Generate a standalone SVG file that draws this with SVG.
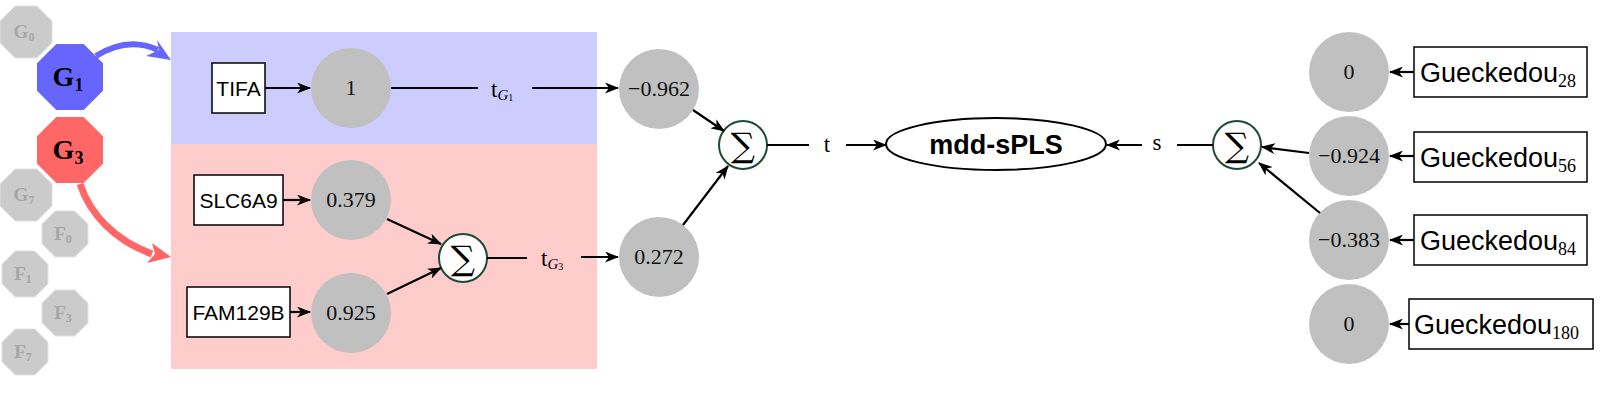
<svg xmlns="http://www.w3.org/2000/svg" width="1600" height="400" viewBox="0 0 1600 400">
<defs>
<marker id="ah" viewBox="0 0 14 11" refX="13" refY="5.5" markerWidth="14" markerHeight="11" markerUnits="userSpaceOnUse" orient="auto">
<path d="M0,0 L14,5.5 L0,11 L4,5.5 z" fill="#000"/>
</marker>
<style>
.ln{stroke:#000;stroke-width:2.2;fill:none}
.ar{stroke:#000;stroke-width:2.2;fill:none;marker-end:url(#ah)}
.w{fill:#c0c0c0}
.sig{fill:#fff;stroke:#1d4a35;stroke-width:2}
.box{fill:#fff;stroke:#000;stroke-width:1.5}
.num{font-family:"Liberation Serif",serif;font-size:22px;fill:#111;text-anchor:middle}
.bt{font-family:"Liberation Sans",sans-serif;font-size:21px;fill:#000;text-anchor:middle}
.gt{font-family:"Liberation Sans",sans-serif;font-size:27px;fill:#000}
.sub{font-family:"Liberation Serif",serif;font-size:18px}
.ser{font-family:"Liberation Serif",serif;font-size:23px;fill:#000}
.sm{font-family:"DejaVu Serif","Liberation Serif",serif;font-size:34px;fill:#000;text-anchor:middle}
.go{fill:#cbcbcb;stroke:#e0e0e0;stroke-width:1}
.gtx{font-family:"Liberation Serif",serif;font-weight:bold;fill:#a6a6a6;font-size:19px;text-anchor:middle}
.btx{font-family:"Liberation Serif",serif;font-weight:bold;fill:#000;font-size:28px;text-anchor:middle}
</style>
</defs>

<rect x="171" y="32" width="426" height="112" fill="#ccccff"/>
<rect x="171" y="144" width="426" height="225" fill="#ffcccc"/>

<g id="G0"><polygon class="go" points="15.2,6 36.8,6 52,21.2 52,42.8 36.8,58 15.2,58 0,42.8 0,21.2"/><text class="gtx" x="24" y="38">G<tspan font-size="12" dy="3">0</tspan></text></g>
<g id="G1"><polygon fill="#6666ff" points="56.3,44 83.7,44 103,63.3 103,90.7 83.7,110 56.3,110 37,90.7 37,63.3"/><text class="btx" x="68" y="86">G<tspan font-size="18" dy="5">1</tspan></text></g>
<g id="G3"><polygon fill="#ff6666" points="56.3,117 83.7,117 103,136.3 103,163.7 83.7,183 56.3,183 37,163.7 37,136.3"/><text class="btx" x="68" y="159">G<tspan font-size="18" dy="5">3</tspan></text></g>
<g id="G7"><polygon class="go" points="15.2,169 36.8,169 52,184.2 52,205.8 36.8,221 15.2,221 0,205.8 0,184.2"/><text class="gtx" x="24" y="201">G<tspan font-size="12" dy="3">7</tspan></text></g>
<g id="F0"><polygon class="go" points="55.3,211 74.7,211 88,224.3 88,243.7 74.7,257 55.3,257 42,243.7 42,224.3"/><text class="gtx" x="63" y="240">F<tspan font-size="12" dy="3">0</tspan></text></g>
<g id="F1"><polygon class="go" points="15.3,251 34.7,251 48,264.3 48,283.7 34.7,297 15.3,297 2,283.7 2,264.3"/><text class="gtx" x="23" y="280">F<tspan font-size="12" dy="3">1</tspan></text></g>
<g id="F3"><polygon class="go" points="55.3,290 74.7,290 88,303.3 88,322.7 74.7,336 55.3,336 42,322.7 42,303.3"/><text class="gtx" x="63" y="319">F<tspan font-size="12" dy="3">3</tspan></text></g>
<g id="F7"><polygon class="go" points="15.3,329 34.7,329 48,342.3 48,361.7 34.7,375 15.3,375 2,361.7 2,342.3"/><text class="gtx" x="23" y="358">F<tspan font-size="12" dy="3">7</tspan></text></g>

<g id="group-arrows">
<path d="M96,56 Q128,36 158,50" stroke="#6666ff" stroke-width="6" fill="none"/>
<polygon fill="#6666ff" points="171,60 157,40 159,50 146,56"/>
<path d="M80,184 C90,214 114,240 152,254" stroke="#ff6666" stroke-width="7" fill="none"/>
<polygon fill="#ff6666" points="171,257 152,243 155,254 147,263"/>
</g>

<g id="TIFA"><rect class="box" x="212" y="63" width="53" height="50"/><text class="bt" x="238.5" y="96">TIFA</text></g>
<g id="SLC6A9"><rect class="box" x="194" y="175" width="89" height="50"/><text class="bt" x="238.5" y="208">SLC6A9</text></g>
<g id="FAM129B"><rect class="box" x="187" y="287" width="103" height="50"/><text class="bt" x="238.5" y="320">FAM129B</text></g>

<g id="w1"><circle class="w" cx="351" cy="88" r="40"/><text class="num" x="351" y="95">1</text></g>
<g id="w0379"><circle class="w" cx="351" cy="200" r="40"/><text class="num" x="351" y="207">0.379</text></g>
<g id="w0925"><circle class="w" cx="351" cy="313" r="40"/><text class="num" x="351" y="320">0.925</text></g>
<g id="sumG3"><circle class="sig" cx="463" cy="258" r="24"/><text class="sm" x="463" y="270">∑</text></g>
<g id="wm0962"><circle class="w" cx="659" cy="89" r="40"/><text class="num" x="659" y="96">−0.962</text></g>
<g id="w0272"><circle class="w" cx="659" cy="257" r="40"/><text class="num" x="659" y="264">0.272</text></g>
<g id="sumT"><circle class="sig" cx="743" cy="145" r="24"/><text class="sm" x="743" y="157">∑</text></g>
<g id="mdd"><ellipse cx="996" cy="144" rx="110" ry="26" fill="#fff" stroke="#000" stroke-width="2"/><text x="996" y="154" font-family="Liberation Sans,sans-serif" font-weight="bold" font-size="27" text-anchor="middle">mdd-sPLS</text></g>
<g id="sumS"><circle class="sig" cx="1237" cy="145" r="24"/><text class="sm" x="1237" y="157">∑</text></g>

<g id="c28"><circle class="w" cx="1349" cy="72" r="40"/><text class="num" x="1349" y="79">0</text></g>
<g id="c56"><circle class="w" cx="1349" cy="156" r="40"/><text class="num" x="1349" y="163">−0.924</text></g>
<g id="c84"><circle class="w" cx="1349" cy="240" r="40"/><text class="num" x="1349" y="247">−0.383</text></g>
<g id="c180"><circle class="w" cx="1349" cy="324" r="40"/><text class="num" x="1349" y="331">0</text></g>

<g id="g28"><rect class="box" x="1414" y="47" width="173" height="50"/><text class="gt" x="1420" y="82">Gueckedou<tspan class="sub" dy="5">28</tspan></text></g>
<g id="g56"><rect class="box" x="1414" y="132" width="173" height="50"/><text class="gt" x="1420" y="167">Gueckedou<tspan class="sub" dy="5">56</tspan></text></g>
<g id="g84"><rect class="box" x="1414" y="215" width="173" height="50"/><text class="gt" x="1420" y="250">Gueckedou<tspan class="sub" dy="5">84</tspan></text></g>
<g id="g180"><rect class="box" x="1409" y="299" width="184" height="50"/><text class="gt" x="1414" y="334">Gueckedou<tspan class="sub" dy="5">180</tspan></text></g>

<g id="connectors">
<line class="ar" x1="265" y1="88" x2="310" y2="88"/>
<line class="ar" x1="283" y1="200" x2="310" y2="200"/>
<line class="ar" x1="290" y1="312" x2="310" y2="312"/>
<line class="ln" x1="391" y1="88" x2="478" y2="88"/>
<text class="ser" x="491" y="97">t<tspan font-size="15" font-style="italic" dy="3">G</tspan><tspan font-size="10" dy="1">1</tspan></text>
<line class="ar" x1="532" y1="88" x2="618" y2="88"/>
<line class="ar" x1="387" y1="219" x2="441" y2="244"/>
<line class="ar" x1="387" y1="294" x2="441" y2="268"/>
<line class="ln" x1="487" y1="258" x2="527" y2="258"/>
<text class="ser" x="541" y="266">t<tspan font-size="15" font-style="italic" dy="3">G</tspan><tspan font-size="10" dy="1">3</tspan></text>
<line class="ar" x1="581" y1="257" x2="618" y2="257"/>
<line class="ar" x1="693" y1="110" x2="724" y2="131"/>
<line class="ar" x1="683" y1="225" x2="728" y2="166"/>
<line class="ln" x1="767" y1="145" x2="809" y2="145"/>
<text class="ser" x="827" y="152" text-anchor="middle" font-size="21">t</text>
<line class="ar" x1="846" y1="145" x2="886" y2="145"/>
<line class="ln" x1="1213" y1="145" x2="1177" y2="145"/>
<text class="ser" x="1157" y="150" text-anchor="middle" font-size="18">s</text>
<line class="ar" x1="1142" y1="145" x2="1107" y2="145"/>
<line class="ar" x1="1309" y1="153" x2="1262" y2="147"/>
<line class="ar" x1="1320" y1="213" x2="1259" y2="163"/>
<line class="ar" x1="1414" y1="72" x2="1390" y2="72"/>
<line class="ar" x1="1414" y1="156" x2="1390" y2="156"/>
<line class="ar" x1="1414" y1="240" x2="1390" y2="240"/>
<line class="ar" x1="1409" y1="324" x2="1390" y2="324"/>
</g>
</svg>
